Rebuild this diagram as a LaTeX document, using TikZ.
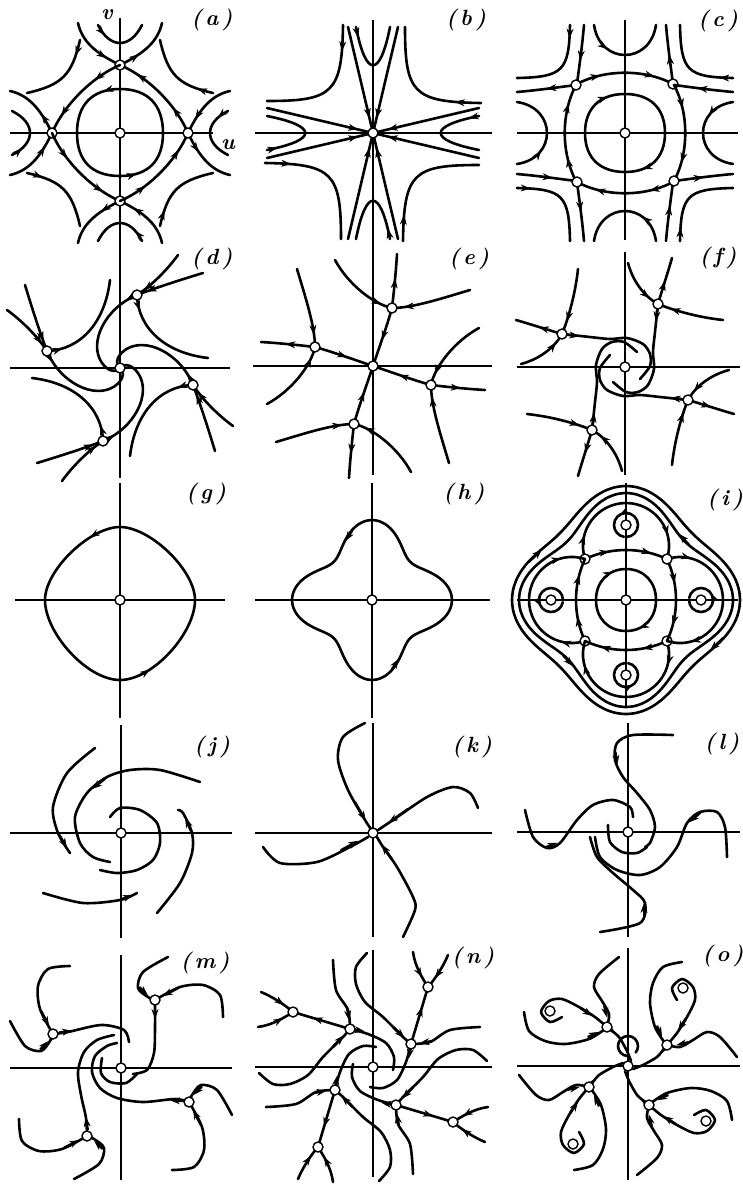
\documentclass[tikz,border=0pt]{standalone}
\usetikzlibrary{arrows.meta,decorations.markings,calc}
\tikzset{
 crv/.style={line width=2.6pt,line cap=round,line join=round},
 ax/.style={line width=1.5pt},
 cpt/.style={circle,draw,fill=white,line width=1.4pt,inner sep=0pt,minimum size=10pt},
 arr/.style={postaction={decorate,decoration={markings,mark=at position #1 with {\arrow[line width=0.6pt]{Stealth[length=10pt,width=7pt]}}}}},
 rarr/.style={postaction={decorate,decoration={markings,mark=at position #1 with {\arrowreversed[line width=0.6pt]{Stealth[length=10pt,width=7pt]}}}}},
 tipst/.style={line width=2.6pt,-{Stealth[length=10pt,width=7pt,line width=0.6pt]}},
 lab/.style={font=\fontsize{22}{24}\selectfont\bfseries\itshape},
}
\newcommand\tipon[2]{\draw[tipst] ($(#1)!0.1!(#2)$) -- ($(#1)!0.75!(#2)$);}
\begin{document}
\begin{tikzpicture}[x=1pt,y=-1pt]
\useasboundingbox (0,0) rectangle (743,1184);
% ---------- labels
\node[lab] (la) at (212,20) {(\,a\,)};
\node[lab] (lb) at (466,20) {(\,b\,)};
\node[lab] (lc) at (718,21) {(\,c\,)};
\node[lab] (ld) at (212,259) {(\,d\,)};
\node[lab] (le) at (469,259) {(\,e\,)};
\node[lab] (lf) at (718,258) {(\,f\,)};
\node[lab] (lg) at (206,494) {(\,g\,)};
\node[lab] (lh) at (464,494) {(\,h\,)};
\node[lab] (li) at (725,500) {(\,i\,)};
\node[lab] (lj) at (212,747) {(\,j\,)};
\node[lab] (lk) at (472,747) {(\,k\,)};
\node[lab] (ll) at (722,744) {(\,l\,)};
\node[lab] (lm) at (205,963) {(\,m\,)};
\node[lab] (ln) at (473,958) {(\,n\,)};
\node[lab] (lo) at (723,956) {(\,o\,)};
\node[lab] (lv) at (107,15) {v};
\node[lab] (lu) at (228,145) {u};
% ---------- (a)
\begin{scope}[shift={(120,133)}]
\draw[ax] (-110,0)--(93,0) (0,-115)--(0,110);
\draw[crv,arr=0.06,arr=0.56] (0,-44) .. controls (-28,-44) and (-43,-28) .. (-43,0) .. controls (-43,28) and (-28,43) .. (0,43) .. controls (28,43) and (43,28) .. (43,0) .. controls (43,-28) and (28,-44) .. (0,-44);
\foreach \r in {0,90,180,270}{\begin{scope}[rotate=\r]
 \draw[crv,arr=0.3,arr=0.8] (68,0) .. controls (56,-28) and (28,-56) .. (0,-68);
 \draw[crv,arr=0.75] (-42,-110) .. controls (-38,-92) and (-25,-80) .. (0,-68);
 \draw[crv,arr=0.35] (0,-68) .. controls (25,-80) and (38,-92) .. (42,-110);
 \draw[crv,arr=0.2] (-22,-108) .. controls (-10,-84) and (10,-84) .. (22,-108);
 \draw[crv,rarr=0.8] (40,-93) .. controls (48,-58) and (58,-48) .. (93,-40);
 \node[cpt] (as\r) at (0,-68) {};
\end{scope}}
\node[cpt] (a0) at (0,0) {};
\end{scope}
% ---------- (b)
\begin{scope}[shift={(373,133)}]
\draw[ax] (-118,0)--(119,0) (0,-113)--(0,110);
\foreach \r in {0,90,180,270}{\begin{scope}[rotate=\r]
 \draw[crv,arr=0.86] (-25,-106) -- (0,0);
 \draw[crv,arr=0.86] (25,-106) -- (0,0);
 \draw[crv,arr=0.12] (-17,-106) .. controls (-7,-55) and (7,-55) .. (17,-106);
 \draw[crv,rarr=0.8] (32,-106) .. controls (32,-40) and (40,-31) .. (108,-30);
\end{scope}}
\node[cpt] (b0) at (0,0) {};
\end{scope}
% ---------- (c)
\begin{scope}[shift={(625,133)}]
\draw[ax] (-108,0)--(113,0) (0,-113)--(0,107);
\draw[crv,arr=0.93,arr=0.43] (0,-39) .. controls (25,-39) and (40,-25) .. (40,0) .. controls (40,25) and (25,39) .. (0,39) .. controls (-25,39) and (-40,25) .. (-40,0) .. controls (-40,-25) and (-25,-39) .. (0,-39);
\foreach \r in {0,90,180,270}{\begin{scope}[rotate=\r]
 \draw[crv,arr=0.25,arr=0.8] (-48,-49) .. controls (-20,-64) and (20,-64) .. (48,-49);
 \draw[crv,arr=0.6] (-41,-108) .. controls (-43,-85) and (-46,-65) .. (-48,-49);
 \draw[crv,arr=0.5] (48,-49) .. controls (46,-65) and (43,-85) .. (41,-108);
 \draw[crv,rarr=0.85] (55,-108) .. controls (56,-62) and (62,-56) .. (108,-55);
 \draw[crv,arr=0.3] (-31,-108) .. controls (-25,-68) and (25,-68) .. (31,-108);
 \node[cpt] (cs\r) at (48,-49) {};
\end{scope}}
\node[cpt] (c0) at (0,0) {};
\end{scope}
% ---------- (d)
\begin{scope}[shift={(120,368)}]
\draw[ax] (-110,0)--(110,0) (0,-125)--(0,110);
\foreach \r in {0,90,180,270}{\begin{scope}[rotate=\r]
 \draw[crv,arr=0.12] (17,-73) .. controls (-15,-60) and (-32,-25) .. (-18,-5) .. controls (-12,3) and (-6,4) .. (-3,2);
 \draw[crv,arr=0.85] (58,-113) .. controls (45,-95) and (28,-80) .. (17,-73);
 \draw[crv,arr=0.85] (83,-95) .. controls (60,-88) and (35,-80) .. (17,-73);
 \draw[crv,arr=0.15] (17,-73) .. controls (18,-40) and (45,-15) .. (88,-10);
 \node[cpt] (ds\r) at (17,-73) {};
\end{scope}}
\node[cpt] (d0) at (0,0) {};
\end{scope}
% ---------- (e)
\begin{scope}[shift={(373,366)}]
\draw[ax] (-120,0)--(119,0) (0,-123)--(0,109);
\foreach \r in {0,90,180,270}{\begin{scope}[rotate=\r]
 \draw[crv,arr=0.55] (19,-58) .. controls (14,-40) and (6,-18) .. (0,0);
 \draw[crv,arr=0.55] (19,-58) .. controls (21,-75) and (23,-95) .. (24,-112);
 \draw[crv,arr=0.85] (-38,-106) .. controls (-25,-82) and (0,-62) .. (19,-58);
 \draw[crv,arr=0.85] (97,-76) .. controls (70,-68) and (40,-58) .. (19,-58);
 \node[cpt] (es\r) at (19,-58) {};
\end{scope}}
\node[cpt] (e0) at (0,0) {};
\end{scope}
% ---------- (f)
\begin{scope}[shift={(625,367)}]
\draw[ax] (-108,0)--(115,0) (0,-115)--(0,108);
\foreach \r in {0,90,180,270}{\begin{scope}[rotate=\r]
 \draw[crv] plot[smooth] coordinates {(33,-63) (30,-35) (28,-15) (29,2) (23,18) (13,25) (1,25) (-12,15)};
 \tipon{33,-63}{30,-40}
 \draw[crv,arr=0.8] (3,-104) .. controls (8,-85) and (20,-70) .. (33,-63);
 \draw[crv,arr=0.5] (33,-63) .. controls (38,-80) and (43,-95) .. (47,-109);
 \draw[crv,arr=0.8] (98,-47) .. controls (70,-50) and (45,-58) .. (33,-63);
 \node[cpt] (fs\r) at (33,-63) {};
\end{scope}}
\node[cpt] (f0) at (0,0) {};
\end{scope}
% ---------- (g)
\begin{scope}[shift={(120,600)}]
\draw[ax] (-105,0)--(105,0) (0,-117)--(0,118);
\draw[crv,arr=0.07,arr=0.57] (0,-73) .. controls (-30,-73) and (-75,-30) .. (-75,0) .. controls (-75,33) and (-33,80) .. (0,80) .. controls (33,80) and (75,33) .. (75,0) .. controls (75,-30) and (30,-73) .. (0,-73);
\node[cpt] (g0) at (0,0) {};
\end{scope}
% ---------- (h)
\begin{scope}[shift={(372,600)}]
\draw[ax] (-117,0)--(118,0) (0,-117)--(0,118);
\draw[crv] plot[smooth cycle,domain=0:355,samples=72] (\x:{67+13*cos(4*\x)});
\tipon{75:73.5}{62:62.1}
\tipon{255:73.5}{242:62.1}
\node[cpt] (h0) at (0,0) {};
\end{scope}
% ---------- (i)
\begin{scope}[shift={(626,600)}]
\draw[ax] (-109,0)--(112,0) (0,-117)--(0,108);
\draw[crv] plot[smooth cycle,domain=0:355,samples=72] (\x:{95+12*cos(4*\x)});
\draw[crv] plot[smooth cycle,domain=0:355,samples=72] (\x:{104+10*cos(4*\x)});
\tipon{140:83.7}{125:85.8}
\tipon{320:83.7}{305:85.8}
\tipon{20:105.7}{35:96.3}
\tipon{200:105.7}{215:96.3}
\draw[crv,arr=0.93,arr=0.43] (0,-31) .. controls (18,-31) and (30,-18) .. (30,0) .. controls (30,18) and (18,31) .. (0,31) .. controls (-18,31) and (-30,18) .. (-30,0) .. controls (-30,-18) and (-18,-31) .. (0,-31);
\foreach \r in {0,90,180,270}{\begin{scope}[rotate=\r]
 \draw[crv,arr=0.3,arr=0.8] (-41,-41) .. controls (-15,-53) and (15,-53) .. (41,-41);
 \draw[crv,arr=0.15,arr=0.85] (-41,-41) .. controls (-50,-70) and (-28,-97) .. (0,-97) .. controls (28,-97) and (50,-70) .. (41,-41);
 \draw[crv,arr=0.6] (0,-63) arc[start angle=90,end angle=-260,radius=12];
 \node[cpt] (is\r) at (-41,-41) {};
 \node[cpt] (ic\r) at (0,-75) {};
\end{scope}}
\node[cpt] (i0) at (0,0) {};
\end{scope}
% ---------- (j)
\begin{scope}[shift={(121,833)}]
\draw[ax] (-111,0)--(111,0) (0,-108)--(0,105);
\draw[crv] plot[smooth] coordinates {(-26,-85) (-54,-60) (-68,-26) (-63,0) (-51,20)};
\draw[crv] plot[smooth] coordinates {(79,-51) (39,-63) (9,-63) (-14,-56) (-34,-40) (-46,-16) (-41,10) (-28,24) (-11,29)};
\draw[crv] plot[smooth] coordinates {(-21,37) (-4,40) (16,37) (32,27) (39,10) (36,-10) (19,-23) (-1,-25) (-11,-16)};
\draw[crv] plot[smooth] coordinates {(-78,60) (-38,70) (-1,67) (16,60)};
\draw[crv] plot[smooth] coordinates {(36,80) (59,50) (71,20) (71,0) (62,-20) (57,-23)};
\tipon{-63,0}{-51,20}
\tipon{-14,-56}{-34,-40}
\tipon{-1,67}{16,60}
\tipon{71,0}{62,-20}
\node[cpt] (j0) at (0,0) {};
\end{scope}
% ---------- (k)
\begin{scope}[shift={(373,833)}]
\draw[ax] (-118,0)--(119,0) (0,-110)--(0,104);
\draw[crv] plot[smooth] coordinates {(-8,-110) (-30,-96) (-35,-73) (-25,-43) (-8,-13) (-2,-4)};
\draw[crv] plot[smooth] coordinates {(105,-25) (97,-40) (80,-46) (54,-36) (20,-13) (5,-3)};
\draw[crv] plot[smooth] coordinates {(30,104) (42,77) (40,64) (24,34) (10,14) (4,4)};
\draw[crv] plot[smooth] coordinates {(-110,14) (-93,30) (-56,29) (-23,14) (-5,4)};
\tipon{-20,-34}{-3,-5}
\tipon{38,-26}{8,-5}
\tipon{20,28}{5,6}
\tipon{-35,19}{-8,4}
\node[cpt] (k0) at (0,0) {};
\end{scope}
% ---------- (l)
\begin{scope}[shift={(628,832)}]
\draw[ax] (-111,0)--(112,0) (0,-109)--(0,105);
\draw[crv] plot[smooth] coordinates {(45,-97) (5,-97) (-11,-89) (-13,-72) (-5,-55) (9,-39) (22,-22) (27,-5) (22,11) (17,15)};
\draw[crv] plot[smooth] coordinates {(-33,5) (-28,25) (-11,38) (12,43) (32,35) (49,15) (59,-9) (72,-20) (89,-20) (97,-5) (99,25)};
\draw[crv] plot[smooth] coordinates {(-103,-22) (-95,5) (-81,16) (-68,11) (-51,-12) (-35,-27) (-15,-32) (2,-25) (5,-15)};
\draw[crv] plot[smooth] coordinates {(-28,100) (12,91) (17,71) (5,58) (-15,41) (-31,25) (-38,5)};
\draw[crv] plot[smooth] coordinates {(-20,-7) (-18,10) (-6,20) (9,21) (19,15)};
\tipon{-13,-82}{-10,-62}
\tipon{74,-21}{57,-6}
\tipon{-84,16}{-66,9}
\tipon{16,86}{16,66}
\node[cpt] (l0) at (0,0) {};
\end{scope}
% ---------- (m)
\begin{scope}[shift={(121,1068)}]
\draw[ax] (-111,0)--(111,0) (0,-113)--(0,112);
\foreach \r in {0,90,180,270}{\begin{scope}[rotate=\r]
 \draw[crv] plot[smooth] coordinates {(47,-111) (22,-96) (17,-80) (27,-71) (34,-68)};
 \draw[crv] plot[smooth] coordinates {(102,-51) (99,-73) (82,-83) (59,-81) (34,-68)};
 \tipon{17,-82}{30,-70}
 \tipon{59,-81}{36,-69}
\end{scope}}
\draw[crv] plot[smooth] coordinates {(34,-68) (34,-40) (33,-15) (26,2) (12,6)};
\draw[crv] plot[smooth] coordinates {(-68,-34) (-53,-36) (-20,-43) (3,-38) (8,-26)};
\draw[crv] plot[smooth] coordinates {(-34,68) (-35,50) (-40,27) (-43,4) (-37,-16) (-24,-28) (-7,-33)};
\draw[crv] plot[smooth] coordinates {(68,34) (54,31) (22,34) (-4,30) (-21,20) (-29,4) (-26,-12) (-14,-22) (-4,-25)};
\draw[crv] plot[smooth] coordinates {(-19,-10) (-20,5) (-11,14) (5,15) (16,6)};
\tipon{34,-64}{34,-44}
\tipon{-64,-35}{-44,-38}
\tipon{-33,64}{-36,44}
\tipon{64,33}{44,32}
\node[cpt] (ms0) at (34,-68) {};
\node[cpt] (ms90) at (-68,-34) {};
\node[cpt] (ms180) at (-34,68) {};
\node[cpt] (ms270) at (68,34) {};
\node[cpt] (m0) at (0,0) {};
\end{scope}
% ---------- (n)
\begin{scope}[shift={(373,1067)}]
\draw[ax] (-118,0)--(119,0) (0,-117)--(0,110);
\foreach \r in {0,90,180,270}{\begin{scope}[rotate=\r]
 \draw[crv,arr=0.65] (38,-23) -- (55,-80);
 \draw[crv,arr=0.7] (40,-115) .. controls (42,-100) and (50,-88) .. (55,-80);
 \draw[crv,arr=0.7] (75,-112) .. controls (70,-100) and (62,-88) .. (55,-80);
 \draw[crv] plot[smooth] coordinates {(-6,-114) (-17,-100) (-17,-83) (-8,-65) (10,-50) (30,-30) (38,-23)};
 \draw[crv] plot[smooth] coordinates {(107,-40) (77,-37) (57,-25) (38,-23)};
 \draw[crv] plot[smooth] coordinates {(38,-23) (33,-5) (24,13) (10,21) (-3,20)};
 \tipon{18,-42}{36,-25}
 \tipon{60,-26}{42,-23}
 \tipon{38,-22}{35,-4}
 \node[cpt] (np\r) at (38,-23) {};
 \node[cpt] (nq\r) at (55,-80) {};
\end{scope}}
\node[cpt] (n0) at (0,0) {};
\end{scope}
% ---------- (o)
\begin{scope}[shift={(628,1066)}]
\draw[ax] (-111,0)--(112,0) (0,-118)--(0,114);
\draw[crv] (0,-10) arc[start angle=90,end angle=400,radius=10];
\foreach \r in {0,90,180,270}{\begin{scope}[rotate=\r]
 \draw[crv] plot[smooth] coordinates {(109,-9) (92,-29) (79,-34) (65,-26) (52,-19) (39,-21)};
 \draw[crv] plot[smooth] coordinates {(54,-104) (35,-99) (25,-83) (22,-63) (27,-39) (37,-23)};
 \draw[crv] plot[smooth] coordinates {(49,-66) (44,-78) (54,-87) (65,-79) (67,-66) (59,-49) (49,-33) (39,-21)};
 \draw[crv] plot[smooth] coordinates {(39,-21) (35,-16) (29,-9) (15,-1) (5,3)};
 \tipon{28,-42}{36,-25}
 \tipon{59,-49}{47,-31}
 \tipon{62,-24}{44,-20}
 \tipon{42,-24}{30,-9}
 \node[cpt] (op\r) at (39,-21) {};
 \node[cpt] (of\r) at (55,-78) {};
\end{scope}}
\node[cpt] (o0) at (0,0) {};
\end{scope}
\end{tikzpicture}
\end{document}
